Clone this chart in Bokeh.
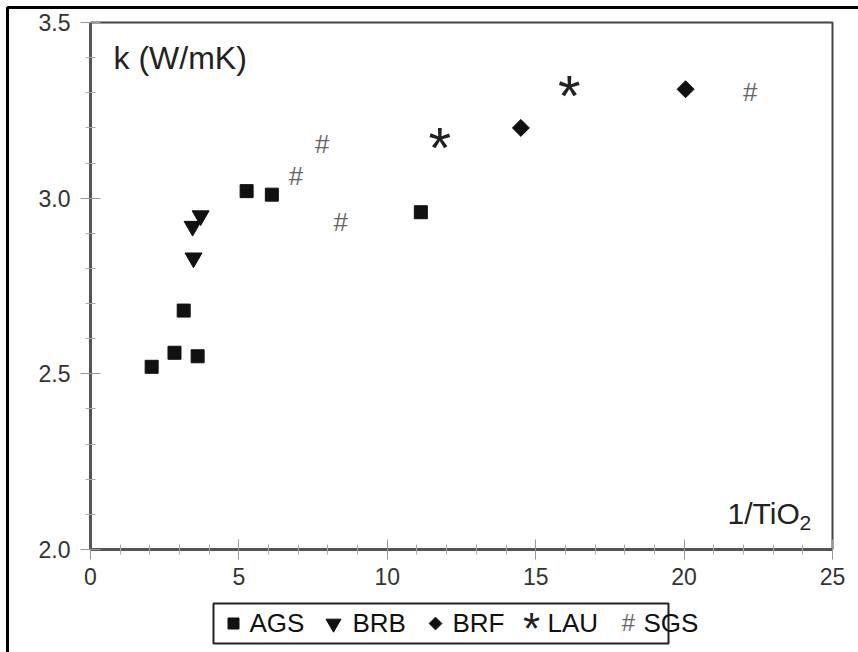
from bokeh.plotting import figure
from bokeh.models import FixedTicker, PrintfTickFormatter, Label
from bokeh.core.properties import value
from bokeh.embed import file_html
from bokeh.resources import INLINE

# thermal conductivity k (W/mK) against 1/TiO2, per sample group
ags_x = [2.06, 2.83, 3.14, 3.61, 5.26, 6.11, 11.13]
ags_y = [2.52, 2.56, 2.68, 2.55, 3.02, 3.01, 2.96]

brb_x = [3.47, 3.44, 3.71]
brb_y = [2.83, 2.92, 2.95]

brf_x = [14.50, 20.05]
brf_y = [3.20, 3.31]

lau_x = [11.77, 16.13]
lau_y = [3.16, 3.31]

sgs_x = [7.81, 6.92, 8.43, 22.23]
sgs_y = [3.15, 3.06, 2.93, 3.30]

x_major = [0, 5, 10, 15, 20, 25]
x_minor = [i for i in range(0, 26) if i % 5]
y_major = [2.0, 2.5, 3.0, 3.5]
y_minor = [round(2.0 + 0.1 * i, 1) for i in range(16) if i % 5]

legend_names = ["AGS", "BRB", "BRF", "LAU", "SGS"]

FONT = "Liberation Sans"
W, H = 858, 652
# plot box in canvas pixels; the frame spans the whole canvas and the
# axes are pinned to the box edges with fixed_location
BOX_L, BOX_R, BOX_T, BOX_B = 90, 832, 22, 549
X0, X1, Y0, Y1 = 0, 25, 2.0, 3.5
kx = (BOX_R - BOX_L) / (X1 - X0)
ky = (BOX_B - BOX_T) / (Y1 - Y0)


def px_x(px):
    return X0 + (px - BOX_L) / kx


def px_y(py):
    return Y0 + (BOX_B - py) / ky


p = figure(width=W, height=H,
           x_range=(px_x(0), px_x(W)), y_range=(px_y(H), px_y(0)),
           output_backend="svg", toolbar_location=None,
           min_border=0, min_border_left=0, min_border_right=0,
           min_border_top=0, min_border_bottom=0)
p.background_fill_color = "white"
p.border_fill_color = "white"
p.outline_line_color = None
p.xgrid.visible = False
p.ygrid.visible = False

p.xaxis.fixed_location = Y0
p.yaxis.fixed_location = X0
p.xaxis.bounds = (X0, X1)
p.yaxis.bounds = (Y0, Y1)
p.xaxis.ticker = FixedTicker(ticks=x_major, minor_ticks=x_minor)
p.yaxis.ticker = FixedTicker(ticks=y_major, minor_ticks=y_minor)
p.yaxis.formatter = PrintfTickFormatter(format="%.1f")
for ax in (p.xaxis, p.yaxis):
    ax.axis_line_color = "#555555"
    ax.axis_line_width = 3
    ax.major_tick_line_color = "#999999"
    ax.minor_tick_line_color = "#aaaaaa"
    ax.major_tick_in = 10
    ax.major_tick_out = 10
    ax.minor_tick_in = 5
    ax.minor_tick_out = 5
    ax.major_label_text_font = FONT
    ax.major_label_text_font_size = "23px"
    ax.major_label_text_color = "#333333"
p.yaxis.major_label_standoff = 10
p.xaxis.major_label_standoff = 8

# top and right edges of the plot box
p.line([X0, X1, X1], [Y1, Y1, Y0], line_color="#444444", line_width=2)

# outer border, left and top edges
p.line([px_x(7), px_x(7), px_x(W + 5)], [px_y(H + 5), px_y(7), px_y(7)],
       line_color="black", line_width=3)

# data markers
p.scatter(ags_x, ags_y, marker="square", size=13, color="#111111")
p.scatter(brb_x, brb_y, marker="inverted_triangle", size=17, color="#111111")
p.scatter(brf_x, brf_y, marker="square", angle=0.785398, size=12, color="#111111")
p.text(lau_x, lau_y, text=["*"] * len(lau_x), text_font=value(FONT),
       text_font_size="58px", text_color="#222222", text_align="center",
       text_baseline="alphabetic", y_offset=6)
p.text(sgs_x, sgs_y, text=["#"] * len(sgs_x), text_font=value(FONT),
       text_font_size="26px", text_color="#666666", text_align="center",
       text_baseline="alphabetic", y_offset=-1)

# axis titles inside the box
p.add_layout(Label(x=px_x(113), y=px_y(57), text="k (W/mK)", text_font=FONT,
                   text_font_size="32px", text_color="#222222",
                   text_baseline="alphabetic"))
p.add_layout(Label(x=px_x(727), y=px_y(513), text="1/TiO", text_font=FONT,
                   text_font_size="30px", text_color="#222222",
                   text_baseline="alphabetic"))
p.add_layout(Label(x=px_x(799), y=px_y(522), text="2", text_font=FONT,
                   text_font_size="21px", text_color="#222222",
                   text_baseline="alphabetic"))

# legend below the axis
p.quad(left=px_x(213), right=px_x(668), top=px_y(603), bottom=px_y(643),
       fill_color="white", line_color="#222222", line_width=2)
leg_y = px_y(623)
p.scatter([px_x(233)], [leg_y], marker="square", size=11, color="#111111")
p.scatter([px_x(333)], [leg_y], marker="inverted_triangle", size=15, color="#111111")
p.scatter([px_x(435)], [leg_y], marker="square", angle=0.785398, size=9, color="#111111")
p.add_layout(Label(x=px_x(531), y=px_y(628), text="*", text_font=FONT,
                   text_font_size="44px", text_color="#222222",
                   text_align="center", text_baseline="alphabetic"))
p.add_layout(Label(x=px_x(628), y=px_y(622), text="#", text_font=FONT,
                   text_font_size="24px", text_color="#666666",
                   text_align="center", text_baseline="alphabetic"))

name_px = [249, 352, 452, 547, 643]
for nx, name in zip(name_px, legend_names):
    p.add_layout(Label(x=px_x(nx), y=px_y(622), text=name, text_font=FONT,
                       text_font_size="26px", text_color="#111111",
                       text_baseline="alphabetic"))

open("out.html", "w").write(file_html(p, INLINE))
